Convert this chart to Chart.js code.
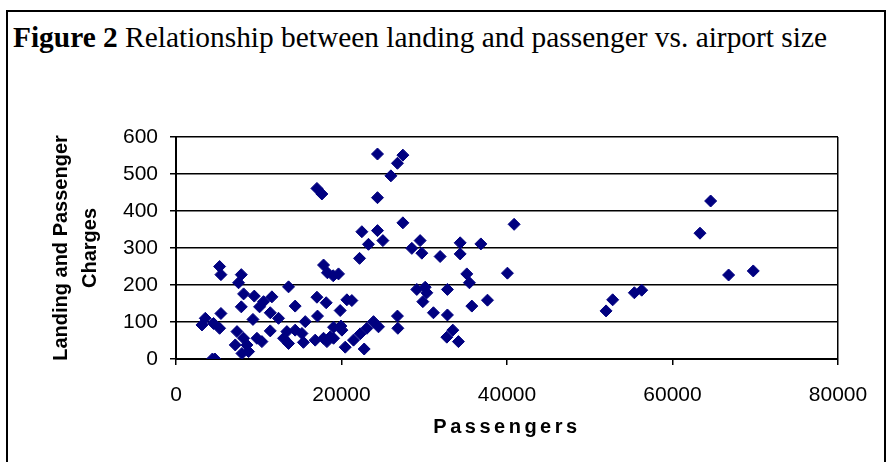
<!DOCTYPE html>
<html>
<head>
<meta charset="utf-8">
<script src="https://cdn.jsdelivr.net/npm/chart.js@4.4.1/dist/chart.umd.min.js"></script>
<style>
  html, body { margin: 0; padding: 0; background: #fff; overflow: hidden; }
  #frame { position: absolute; left: 6px; top: 10px; width: 876px; height: 480px; border: 2px solid #000; }
  #title { position: absolute; left: 13px; top: 23px; font-family: 'Liberation Serif', 'Times New Roman', serif;
           font-size: 29.4px; line-height: 29px; color: #000; white-space: nowrap; }
  #chart { position: absolute; left: 0; top: 0; }
</style>
</head>
<body>
<div id="frame"></div>
<div id="title"><b>Figure 2</b> Relationship between landing and passenger vs. airport size</div>
<canvas id="chart" width="886" height="462"></canvas>
<script>
// values
const passengers = [
  3140, 3540, 4400, 4540, 4700, 5270, 5430, 5430, 5270, 7160,
  7370, 7560, 7890, 7890, 7970, 8170, 8170, 8570, 8770, 9300,
  9460, 9780, 10100, 10380, 10580, 11390, 11390, 11590, 12390, 13000,
  13400, 13600, 13600, 14400, 14400, 15220, 15400, 15620, 16820, 17030,
  17030, 17100, 17630, 17830, 17830, 18150, 18240, 18300, 18640, 19000,
  19040, 19040, 19640, 19840, 19930, 20050, 20450, 20650, 21250, 21450,
  22180, 22260, 22460, 22740, 23070, 23260, 23870, 24350, 24350, 24350,
  24470, 25000, 25970, 26760, 26760, 26810, 27420, 27420, 28500, 29100,
  29500, 29710, 29830, 30110, 30310, 31110, 31920, 32730, 32800, 32800,
  33450, 34130, 34340, 34340, 35140, 35460, 35750, 36840, 37640, 40050,
  40860, 51970, 52770, 55390, 56280, 63320, 64610, 66780, 69760
];
const charges = [
  92, 110, 0, 96, 0, 250, 228, 123, 83, 38,
  74, 206, 228, 141, 15, 176, 56, 38, 20, 107,
  170, 56, 141, 47, 155, 125, 76, 168, 110, 56,
  74, 195, 42, 143, 78, 69, 45, 101, 51, 167,
  461, 116, 446, 254, 56, 152, 47, 233, 60, 225,
  86, 56, 230, 131, 89, 78, 32, 160, 158, 51,
  272, 68, 344, 27, 83, 310, 101, 554, 436, 347,
  87, 320, 495, 529, 116, 83, 551, 368, 299, 188,
  320, 286, 155, 194, 179, 125, 277, 59, 188, 119,
  78, 47, 314, 284, 230, 206, 143, 311, 159, 232,
  364, 130, 160, 179, 186, 340, 427, 227, 238
];
const xRange = [0, 80000], xStep = 20000;
const yRange = [0, 600], yStep = 100;

const sans = "'Liberation Sans', Arial, sans-serif";
const navy = '#000080';

// letter-spaced x axis title, as in the original
const spacedTitle = {
  id: 'spacedTitle',
  beforeDraw(chart) {
    const sc = chart.scales.x;
    if (sc._spaced) return;
    const draw = sc.drawTitle;
    sc.drawTitle = function () {
      this.ctx.save();
      this.ctx.letterSpacing = '3.5px';
      draw.call(this);
      this.ctx.restore();
    };
    sc._spaced = true;
  }
};

new Chart(document.getElementById('chart'), {
  type: 'scatter',
  plugins: [spacedTitle],
  data: {
    datasets: [{
      data: passengers.map((p, i) => ({ x: p, y: charges[i] })),
      pointStyle: 'rectRot', pointRadius: 6, borderWidth: 1,
      backgroundColor: navy, borderColor: navy
    }]
  },
  options: {
    responsive: false, animation: false,
    layout: { padding: { left: 0, top: 137, right: 48, bottom: 0 } },
    plugins: { legend: { display: false }, tooltip: { enabled: false } },
    scales: {
      x: {
        type: 'linear', min: xRange[0], max: xRange[1],
        afterFit: s => { s.height = 103; },
        ticks: { stepSize: xStep, color: '#000', padding: 18, font: { family: sans, size: 21 },
                 callback: v => String(v) },
        grid: { color: c => c.tick && c.tick.value === xRange[1] ? '#000' : 'rgba(0,0,0,0)',
                tickColor: '#000', tickLength: 6, lineWidth: 1.5, tickWidth: 1.5 },
        border: { color: '#000', width: 2 },
        title: { display: true, text: 'Passengers', color: '#000',
                 font: { family: sans, size: 20, weight: 'bold' }, padding: { top: 0, bottom: 23 } }
      },
      y: {
        min: yRange[0], max: yRange[1],
        afterFit: s => { s.width = 176; },
        ticks: { stepSize: yStep, color: '#000', padding: 12, font: { family: sans, size: 21 } },
        grid: { color: '#000', tickColor: '#000', tickLength: 6, lineWidth: 1.5, tickWidth: 1.5 },
        border: { color: '#000', width: 2 },
        title: { display: true, text: ['Landing and Passenger', 'Charges'], color: '#000',
                 font: { family: sans, size: 20, weight: 'bold', lineHeight: 1.45 },
                 padding: { top: 46.5, bottom: 0 } }
      }
    }
  }
});
</script>
</body>
</html>
